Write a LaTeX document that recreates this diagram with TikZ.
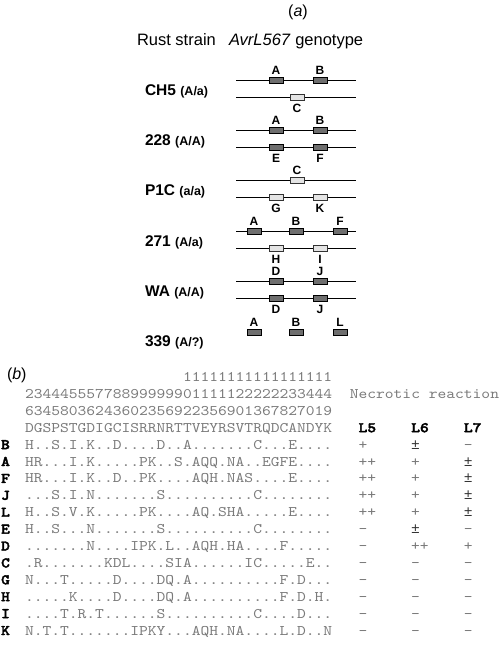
\documentclass[tikz,border=0pt]{standalone}
\usepackage{fontspec}
\setmainfont{Liberation Sans}
\newfontfamily\mono{lmmono10-regular.otf}[FakeStretch=1.143]
\newfontfamily\monob{lmmonolt10-bold.otf}[FakeStretch=1.143,FakeBold=2.5]
\newfontfamily\libmono{Liberation Mono}
\definecolor{seqgray}{HTML}{7A7A7A}
\definecolor{darkbox}{HTML}{6E6E6E}
\definecolor{lightbox}{HTML}{E4E4E4}
\newcommand\mypm{\textcolor{black!80}{\libmono ±}}
\begin{document}
\begin{tikzpicture}[x=1pt,y=-1pt,
  every node/.style={inner sep=0pt, outer sep=0pt},
  chrom/.style={line width=0.9pt, black},
  dbox/.style={draw=black, line width=0.6pt, fill=darkbox, minimum width=14pt, minimum height=6pt},
  lbox/.style={draw=black!80, line width=0.6pt, fill=lightbox, minimum width=14pt, minimum height=6pt},
  blab/.style={font=\bfseries\fontsize{12}{12}\selectfont},
  strain/.style={anchor=base west, font=\bfseries},
  head/.style={anchor=base west, font=\fontsize{16.5}{17}\selectfont},
  seq/.style={anchor=base west, font=\mono\fontsize{14.63}{16}\selectfont, text=seqgray},
  rowlab/.style={anchor=base, font=\monob\fontsize{14.63}{16}\selectfont},
  colhead/.style={anchor=base west, font=\monob\fontsize{14.63}{16}\selectfont},
]
\useasboundingbox (0,0) rectangle (500,648);

% ---------- (a) ----------
\node[anchor=base, font=\fontsize{16}{16}\selectfont] (pa) at (298,16.5) {(\textit{a})};
\node[head] (rust) at (137,45.5) {Rust strain};
\node[head] (geno) at (229,45.5) {\textit{AvrL567} genotype};

% CH5
\draw[chrom] (236,80) -- (356,80);
\draw[chrom] (236,97) -- (356,97);
\node[dbox] (ch5A) at (276,80) {};
\node[dbox] (ch5B) at (320,80) {};
\node[lbox] (ch5C) at (297,97) {};
\node[blab] (ch5Al) at (276,70) {A};
\node[blab] (ch5Bl) at (320,70) {B};
\node[blab] (ch5Cl) at (297,108) {C};
\node[strain] (ch5) at (145,95) {\fontsize{15.5}{16}\selectfont CH5 \fontsize{12.5}{13}\selectfont(A/a)};

% 228
\draw[chrom] (236,130) -- (356,130);
\draw[chrom] (236,147) -- (356,147);
\node[dbox] (s228A) at (276,130) {};
\node[dbox] (s228B) at (320,130) {};
\node[dbox] (s228E) at (276,147) {};
\node[dbox] (s228F) at (320,147) {};
\node[blab] (s228Al) at (276,120) {A};
\node[blab] (s228Bl) at (320,120) {B};
\node[blab] (s228El) at (276,158) {E};
\node[blab] (s228Fl) at (320,158) {F};
\node[strain] (s228) at (145,145) {\fontsize{15.5}{16}\selectfont 228 \fontsize{12.5}{13}\selectfont(A/A)};

% P1C
\draw[chrom] (236,180) -- (356,180);
\draw[chrom] (236,197) -- (356,197);
\node[lbox] (p1cC) at (297,180) {};
\node[lbox] (p1cG) at (276,197) {};
\node[lbox] (p1cK) at (320,197) {};
\node[blab] (p1cCl) at (297,170) {C};
\node[blab] (p1cGl) at (276,208) {G};
\node[blab] (p1cKl) at (320,208) {K};
\node[strain] (p1c) at (145,195) {\fontsize{15.5}{16}\selectfont P1C \fontsize{12.5}{13}\selectfont(a/a)};

% 271
\draw[chrom] (236,231) -- (356,231);
\draw[chrom] (236,248) -- (356,248);
\node[dbox] (s271A) at (254,231) {};
\node[dbox] (s271B) at (296,231) {};
\node[dbox] (s271F) at (340,231) {};
\node[lbox] (s271H) at (276,248) {};
\node[lbox] (s271I) at (320,248) {};
\node[blab] (s271Al) at (254,221) {A};
\node[blab] (s271Bl) at (296,221) {B};
\node[blab] (s271Fl) at (340,221) {F};
\node[blab] (s271Hl) at (276,259) {H};
\node[blab] (s271Il) at (320,259) {I};
\node[strain] (s271) at (145,246) {\fontsize{15.5}{16}\selectfont 271 \fontsize{12.5}{13}\selectfont(A/a)};

% WA
\draw[chrom] (236,281) -- (356,281);
\draw[chrom] (236,298) -- (356,298);
\node[dbox] (waD1) at (276,281) {};
\node[dbox] (waJ1) at (320,281) {};
\node[dbox] (waD2) at (276,298) {};
\node[dbox] (waJ2) at (320,298) {};
\node[blab] (waD1l) at (276,271) {D};
\node[blab] (waJ1l) at (320,271) {J};
\node[blab] (waD2l) at (276,309) {D};
\node[blab] (waJ2l) at (320,309) {J};
\node[strain] (wa) at (145,296) {\fontsize{15.5}{16}\selectfont WA \fontsize{12.5}{13}\selectfont(A/A)};

% 339
\node[dbox] (s339A) at (254,332) {};
\node[dbox] (s339B) at (296,332) {};
\node[dbox] (s339L) at (340,332) {};
\node[blab] (s339Al) at (254,322) {A};
\node[blab] (s339Bl) at (296,322) {B};
\node[blab] (s339Ll) at (340,322) {L};
\node[strain] (s339) at (145,346.5) {\fontsize{15.5}{16}\selectfont 339 \fontsize{12.5}{13}\selectfont(A/?)};

% ---------- (b) ----------
\node[anchor=base west, font=\fontsize{16}{16}\selectfont] (pb) at (7,379.7) {(\textit{b})};
\node[seq] (num1) at (183.0,381.5) {11111111111111111};
\node[seq] (num2) at (25,398.4) {23444555778899999901111122222233444};
\node[seq] (nec) at (349.8,398.4) {Necrotic reaction};
\node[seq] (num3) at (25,415.3) {63458036243602356922356901367827019};
\node[seq] (refseq) at (25,432.2) {DGSPSTGDIGCISRRNRTTVEYRSVTRQDCANDYK};
\node[colhead] (L5) at (358.6,432.2) {L5};
\node[colhead] (L6) at (411.2,432.2) {L6};
\node[colhead] (L7) at (463.9,432.2) {L7};

\foreach \i/\lab/\s/\pa/\pb/\pc in {
 0/B/{H..S.I.K..D....D..A.......C...E....}/+/\mypm/-,
 1/A/{HR...I.K.....PK..S.AQQ.NA..EGFE....}/++/+/\mypm,
 2/F/{HR...I.K..D..PK....AQH.NAS....E....}/++/+/\mypm,
 3/J/{...S.I.N.......S..........C........}/++/+/\mypm,
 4/L/{H..S.V.K.....PK....AQ.SHA.....E....}/++/+/\mypm,
 5/E/{H..S...N.......S..........C........}/-/\mypm/-,
 6/D/{.......N....IPK.L..AQH.HA....F.....}/-/++/+,
 7/C/{.R.......KDL....SIA......IC.....E..}/-/-/-,
 8/G/{N...T.....D....DQ.A..........F.D...}/-/-/-,
 9/H/{.....K....D....DQ.A..........F.D.H.}/-/-/-,
 10/I/{....T.R.T......S..........C....D...}/-/-/-,
 11/K/{N.T.T.......IPKY...AQH.NA....L.D..N}/-/-/-}
{
  \pgfmathsetmacro\yb{444.9+16.9*\i+4.2}
  \node[rowlab] (lab\lab) at (5.5,\yb) {\lab};
  \node[seq] (seq\lab) at (25,\yb) {\s};
  \node[seq] (rA\lab) at (358.6,\yb) {\pa};
  \node[seq] (rB\lab) at (411.2,\yb) {\pb};
  \node[seq] (rC\lab) at (463.9,\yb) {\pc};
}
\end{tikzpicture}
\end{document}
